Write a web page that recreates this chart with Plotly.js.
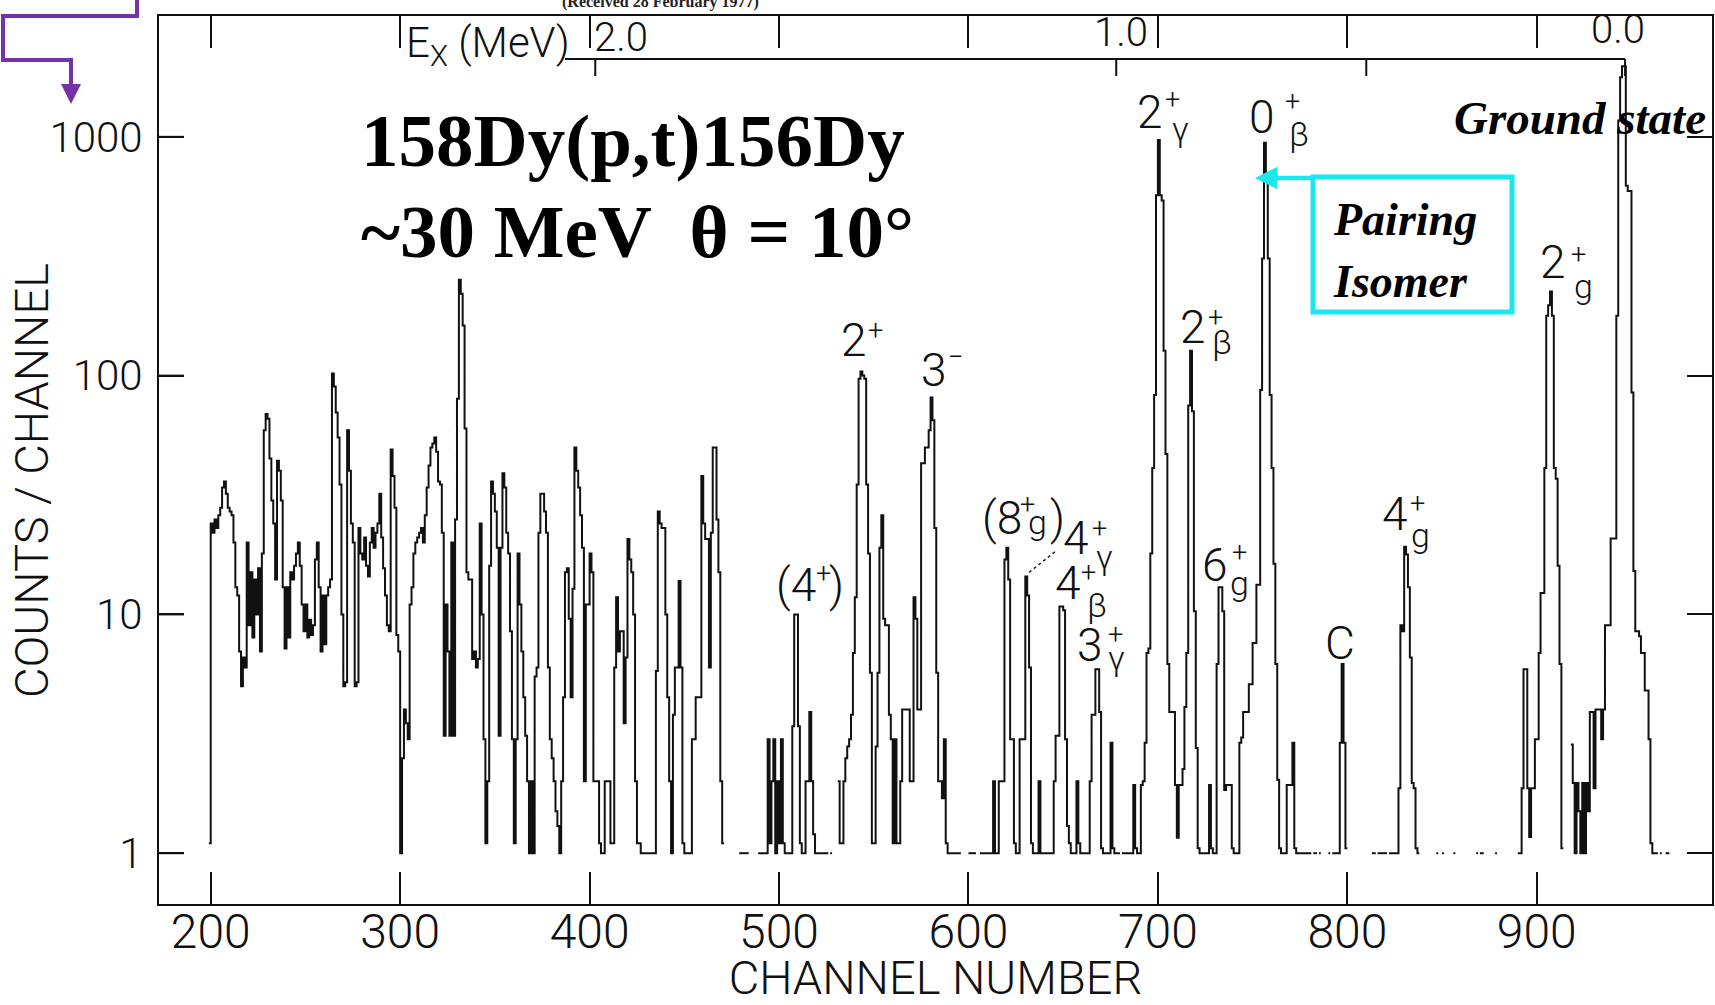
<!DOCTYPE html>
<html><head><meta charset="utf-8">
<script src="https://cdn.plot.ly/plotly-3.0.1.min.js"></script>
<style>html,body{margin:0;padding:0;background:#fff;overflow:hidden}#chart{width:1715px;height:1005px}</style>
</head><body><div id="chart"></div>
<script>
// ---- spectrum data: channel where a level starts, counts per channel (0 = empty channel)
const chan = [199,200,201,202,203,204,205,206,207,208,209,210,211,212,213,214,215,216,217,218,219,220,221,222,223,224,225,226,227,228,229,230,231,232,233,234,235,236,237,238,239,240,241,242,243,244,245,246,247,248,249,250,251,252,253,254,255,256,257,258,259,260,261,262,263,264,265,266,267,268,269,270,271,272,273,274,275,276,277,278,279,280,281,282,283,284,285,286,287,288,289,290,291,292,293,294,295,296,297,298,299,300,301,302,303,304,305,306,307,308,309,310,311,312,313,314,315,316,317,318,319,320,321,322,323,324,325,326,327,328,329,330,331,332,333,334,335,336,338,339,340,341,342,343,344,345,346,347,348,349,350,351,352,353,354,355,356,357,358,359,360,361,362,363,364,365,366,367,368,369,370,371,372,373,374,376,377,378,379,380,381,382,383,384,385,386,387,388,389,390,391,392,393,394,395,396,397,398,400,401,402,405,406,408,411,413,414,415,416,418,419,420,421,422,423,424,425,427,435,436,437,438,440,441,442,443,444,445,447,448,449,450,454,456,459,460,461,463,464,465,467,468,469,470,471,479,484,489,494,495,496,497,498,499,500,501,502,503,507,508,510,511,512,514,516,517,518,519,526,527,528,531,532,534,535,536,537,538,539,540,541,542,543,544,545,546,547,548,549,551,552,553,554,555,556,558,559,560,561,562,564,565,569,571,572,573,575,577,579,580,581,582,583,584,586,587,588,589,596,600,604,606,613,614,616,619,620,621,622,624,625,627,630,631,632,633,634,637,638,645,646,648,650,651,652,653,654,657,658,659,664,665,667,669,670,671,675,676,677,680,681,687,688,689,691,692,693,694,695,696,697,698,699,700,701,702,703,704,705,706,709,710,711,713,714,715,716,717,718,719,720,721,722,727,728,729,731,732,734,735,736,739,740,743,744,745,748,750,752,754,755,756,757,758,759,760,761,762,763,764,765,768,771,772,773,781,782,784,785,786,790,791,792,796,797,798,799,800,813,815,816,821,822,827,828,829,830,831,832,833,834,835,836,837,838,847,848,850,851,856,857,868,869,870,872,878,879,890,892,893,895,896,897,899,901,902,904,905,906,907,908,909,910,911,912,913,914,918,919,920,921,922,923,924,925,926,927,928,930,931,934,935,936,939,942,943,944,945,947,948,950,951,952,954,955,957,959,960,961,964,965,966,968];
const counts = [1.1,24,22,25,23,26,28,34,36,32,28,27,26,20,13,12,7,5,6.6,6,20,9,15,8,14,10,15.6,7,18,59,69,66,45,30,24,14,44,40,30,13,7.2,13,8,15,14,16,18,20,16,11,8.5,11,8,9.5,8.2,9,17,20,13,7,12,7.5,12,13,14,102,90,70,55,35,10,5,5.2,59,40,24,20,5,5.2,23,18,17,21,16,14.4,20,23,19,22,24,32,21,15.6,12,9,8.5,49,38,28,8.2,7,1,2.5,4,3.5,3,11,13,18,20,21,22,23,20,26,34,42,50,52,55,48,36,35,22,3.1,11,7,3.1,20,3.1,25,80,252,220,162,60,15,14,6.5,7,6,6.5,24,10,3,1.1,2,16,36,32,27,19,3.1,19,39,34,22,18,8.5,3,1.1,3,18,11,7,4.5,3.1,2,1,2,1,5.5,6,22,32,27,22,6,3,2.5,2,1.5,1.3,1,2,4.5,15,15.6,9.6,4.5,12.8,50,40,34,26,19,2,11,18,15,2,1.1,1,2,1.1,6,11.8,7,8.5,3.5,6.6,20.7,17,15,10,2,1.1,1,5.8,27,24,23,10,4.5,2,1,3.8,6,13.8,6,1.1,1,3,4.5,38,24,20.7,6,22,50,25,15,2,1.1,0,1,0,1,3,1.1,2,3,1,2,1.1,3,1.1,1,3.4,10,3.4,1.1,1,2,3.9,2,1.2,1,0,1,0,2,1.1,2,2.5,2.8,3,3.8,6.9,11.8,35,97,104,100,97,35,18,5.7,1.1,2.8,5.7,19,26,9.6,9,3.8,3,1.1,3,1.1,2,4,2,11.8,9.6,4,43,50,59,81,65,23,5.7,2,1.7,3,1.1,1,0,1,0,1,2,1,2,17,19,14,3,1.1,1,3,14.4,12,6,1.1,1,2,1,2,3.1,10.8,10.4,3,1.3,1.1,1,2,1.1,1,2,3.8,5.9,3.9,1.05,1,2.9,1.05,1,0,1,1.93,1.05,1,1.93,2,2.9,6.9,7.2,18,41,83,569,969,569,541,127,47,6.2,3.9,1.93,1.16,1.93,2.25,4.1,6.9,75,127,71,10.3,2.76,1.05,1,1.93,1.05,1,6.2,13,10.3,1.84,1.93,1.05,1,2.9,3.05,3.9,5.1,7.6,13.3,87,309,945,662,309,83,41,16.3,6.2,2.03,1.05,1,1.93,2.9,1.05,1,0,1,0,1,0,1,0,1,2.9,6.2,2.9,1.05,0,1,0,1,0,1,1.87,9,8.5,19.2,17.8,13,6.6,1.97,1.87,1.05,1,0,1,0,1,0,1,0,1,0,1,0,1,0,1,1.87,5.9,1.87,1.17,1.87,3,6.9,12.3,41,178,197,225,178,41,37,16,6.2,1.05,0,2.85,1.97,1,1.97,1.5,1,1.97,1,1.97,1.5,3.9,1.87,4,3,4,9,20.8,178,1170,1778,1973,624,593,85,15.2,8.5,8.1,6.9,4.8,3,1.1,1,0,1,0,1];
const specEnd = 970;

// x axis ticks (channel number) and y axis ticks (counts / channel)
const chanTicks = [200,300,400,500,600,700,800,900];
const countTicks = [1,10,100,1000];
const countTickText = ['1','10','100','1000'];

// excitation-energy scale (MeV) and the channels it marks
const exLabels = ['2.0','1.0','0.0'];
const exChannels = [403, 678, 946.6];
const exMinorChannels = [810];

// leader line from the 4+gamma label to its peak
const leaderX = [632, 646.8];
const leaderY = [15.0, 18.6];

// ---------------- layout geometry ----------------
const L = 159, T = 16, W = 1553, H = 888;
const px2x = px => (px - L) / W;
const px2y = py => (T + H - py) / H;
const Y_RANGE = [-0.2127, 3.506];
const logToPaper = v => (Math.log10(v) - Y_RANGE[0]) / (Y_RANGE[1] - Y_RANGE[0]);

// build the step outline from the channel levels
const xs = [], ys = [];
for (let i = 0; i < chan.length; i++) {
  const c = counts[i];
  const x0 = chan[i];
  const x1 = (i + 1 < chan.length) ? chan[i + 1] : specEnd;
  if (c > 0) { xs.push(x0, x1); ys.push(c, c); }
  else { xs.push(x0); ys.push(null); }
}

const FONT = 'Roboto, "Liberation Sans", Arial, sans-serif';
const SERIF = '"Liberation Serif", "Times New Roman", serif';

const traces = [
  { x: xs, y: ys, type: 'scatter', mode: 'lines', connectgaps: false,
    line: { color: '#111', width: 2, shape: 'linear' }, hoverinfo: 'skip', showlegend: false },
  { x: leaderX, y: leaderY, type: 'scatter', mode: 'lines',
    line: { color: '#222', width: 1.5, dash: 'dot' }, hoverinfo: 'skip', showlegend: false }
];

// peak label pieces: text, channel, log10(counts) position, role
const labelParts = [
  ['2',695.6,3.104,'m'],['+',707.5,3.154,'p'],['γ',711.7,3.032,'s'],
  ['0',755.0,3.085,'m'],['+',771.0,3.146,'p'],['β',774.5,3.012,'s'],
  ['2',718.5,2.204,'m'],['+',730.6,2.241,'p'],['β',733.8,2.141,'s'],
  ['6',730.1,1.206,'m'],['+',742.9,1.256,'p'],['g',742.9,1.130,'s'],
  ['C',796.2,0.880,'m'],
  ['3',664.2,0.872,'m'],['+',677.5,0.914,'p'],['γ',678.0,0.817,'s'],
  ['4',652.8,1.131,'m'],['+',663.2,1.173,'p'],['β',667.9,1.039,'s'],
  ['4',656.8,1.320,'m'],['+',669.0,1.358,'p'],['γ',671.6,1.240,'s'],
  ['(8',617.9,1.403,'m'],['+',631.0,1.458,'p'],['g',636.2,1.387,'s'],[')',646.8,1.403,'m'],
  ['(4',509.2,1.123,'m'],['+',523.3,1.170,'p'],[')',530.1,1.123,'m'],
  ['2',539.6,2.149,'m'],['+',550.7,2.186,'p'],
  ['3',582.0,2.022,'m'],['−',593.0,2.077,'p'],
  ['4',825.4,1.420,'m'],['+',837.1,1.462,'p'],['g',838.7,1.332,'s'],
  ['2',908.6,2.475,'m'],['+',921.9,2.504,'p'],['g',924.5,2.374,'s']
];
const roleSize = { m: 46, p: 27, s: 34 };

const annotations = labelParts.map(([t, x, y, r]) => ({
  text: t, x: x, y: y, xref: 'x', yref: 'y', showarrow: false,
  xanchor: 'center', yanchor: 'middle',
  font: { family: FONT, size: roleSize[r], color: '#111', weight: 300 }
}));

// E_x labels
const exLabelPx = [[621, 38], [1121, 33], [1618, 30]];
exLabels.forEach((t, i) => annotations.push({
  text: t, xref: 'paper', yref: 'paper', x: px2x(exLabelPx[i][0]), y: px2y(exLabelPx[i][1]),
  xanchor: 'center', yanchor: 'middle', showarrow: false,
  font: { family: FONT, size: 40, color: '#111', weight: 300 }
}));
annotations.push({
  text: 'E<sub>X</sub> (MeV)', xref: 'paper', yref: 'paper', x: px2x(488), y: px2y(46),
  xanchor: 'center', yanchor: 'middle', showarrow: false,
  font: { family: FONT, size: 42, color: '#111', weight: 300 }
});

// y axis title, placed as in the figure
annotations.push({
  text: 'COUNTS / CHANNEL', xref: 'paper', yref: 'paper', x: px2x(31), y: px2y(481),
  xanchor: 'center', yanchor: 'middle', textangle: -90, showarrow: false,
  font: { family: FONT, size: 47, color: '#111', weight: 300 }
});

// headline texts
annotations.push(
  { text: '<b>158Dy(p,t)156Dy</b>', xref: 'paper', yref: 'paper', x: px2x(359), y: px2y(140),
    xanchor: 'left', yanchor: 'middle', showarrow: false, font: { family: SERIF, size: 75, color: '#000' } },
  { text: '<b>~30 MeV\u00a0 θ = 10°</b>', xref: 'paper', yref: 'paper', x: px2x(359), y: px2y(231),
    xanchor: 'left', yanchor: 'middle', showarrow: false, font: { family: SERIF, size: 75, color: '#000' } },
  { text: '<b><i>Ground state</i></b>', xref: 'paper', yref: 'paper', x: px2x(1580), y: px2y(118),
    xanchor: 'center', yanchor: 'middle', showarrow: false, font: { family: SERIF, size: 47, color: '#000' } },
  { text: '<b><i>Pairing</i></b>', xref: 'paper', yref: 'paper', x: px2x(1331), y: px2y(219),
    xanchor: 'left', yanchor: 'middle', showarrow: false, font: { family: SERIF, size: 46, color: '#000' } },
  { text: '<b><i>Isomer</i></b>', xref: 'paper', yref: 'paper', x: px2x(1331), y: px2y(281),
    xanchor: 'left', yanchor: 'middle', showarrow: false, font: { family: SERIF, size: 46, color: '#000' } },
  { text: '<b>(Received 28 February 1977)</b>', xref: 'paper', yref: 'paper', x: px2x(660), y: px2y(2),
    xanchor: 'center', yanchor: 'middle', showarrow: false, font: { family: SERIF, size: 16, color: '#222' } },
  // cyan arrow to the 0+beta peak
  { text: '', xref: 'paper', yref: 'paper', x: px2x(1255), y: px2y(178), ax: 60, ay: 0,
    showarrow: true, arrowhead: 2, arrowsize: 1, arrowwidth: 4.5, arrowcolor: '#19E8EC', standoff: 0 },
  // purple connector arrow
  { text: '', xref: 'paper', yref: 'paper', x: px2x(71), y: px2y(104), ax: 0, ay: -44,
    showarrow: true, arrowhead: 2, arrowsize: 1, arrowwidth: 4, arrowcolor: '#7433A8', standoff: 0 }
);

const shapes = [
  // E_x scale line
  { type: 'line', xref: 'x', yref: 'paper', x0: 387, x1: exChannels[2], y0: px2y(59), y1: px2y(59),
    line: { color: '#111', width: 2 } },
  // Pairing Isomer box
  { type: 'rect', xref: 'paper', yref: 'paper', x0: px2x(1313), x1: px2x(1512), y0: px2y(312), y1: px2y(177),
    line: { color: '#19E8EC', width: 5 } },
  // purple connector path
  { type: 'path', xref: 'paper', yref: 'paper',
    path: `M ${px2x(137)} ${px2y(-2)} L ${px2x(137)} ${px2y(16)} L ${px2x(3)} ${px2y(16)} L ${px2x(3)} ${px2y(60)} L ${px2x(71)} ${px2y(60)} L ${px2x(71)} ${px2y(80)}`,
    line: { color: '#7433A8', width: 4 } }
];
// E_x scale tick marks hanging below its line
exChannels.concat(exMinorChannels).forEach(c => shapes.push({
  type: 'line', xref: 'x', yref: 'paper', x0: c, x1: c, y0: px2y(59), y1: px2y(76),
  line: { color: '#111', width: 2 }
}));
// inward tick marks on the left counts axis
countTicks.forEach(v => shapes.push({
  type: 'line', xref: 'paper', yref: 'paper', x0: 0, x1: 25 / W, y0: logToPaper(v), y1: logToPaper(v),
  line: { color: '#111', width: 2 }
}));

const NB = '\u00a0';
const layout = {
  width: 1715, height: 1005,
  margin: { l: L, r: 1715 - L - W, t: T, b: 1005 - T - H, pad: 0 },
  paper_bgcolor: '#fff', plot_bgcolor: '#fff',
  showlegend: false,
  xaxis: {
    range: [172.7, 992.5], tickvals: chanTicks, ticks: 'inside', ticklen: 32, tickwidth: 2,
    tickcolor: '#111', showline: true, linewidth: 2, linecolor: '#111', mirror: 'ticks',
    showgrid: false, zeroline: false, ticklabelstandoff: -16,
    tickfont: { family: FONT, size: 48, color: '#111', weight: 300 },
    title: { text: 'CHANNEL' + NB + 'NUMBER', standoff: 38, font: { family: FONT, size: 47, color: '#111', weight: 300 } }
  },
  yaxis: {
    type: 'log', range: Y_RANGE, tickvals: countTicks, ticktext: countTickText,
    ticks: 'inside', ticklen: 25, tickwidth: 2, tickcolor: '#111',
    showline: true, linewidth: 2, linecolor: '#111', mirror: 'ticks',
    showgrid: false, zeroline: false, ticklabelstandoff: 6,
    tickfont: { family: FONT, size: 42, color: '#111', weight: 300 }
  },
  annotations: annotations,
  shapes: shapes
};

Plotly.newPlot('chart', traces, layout, { displayModeBar: false, staticPlot: true });
</script>
</body></html>
